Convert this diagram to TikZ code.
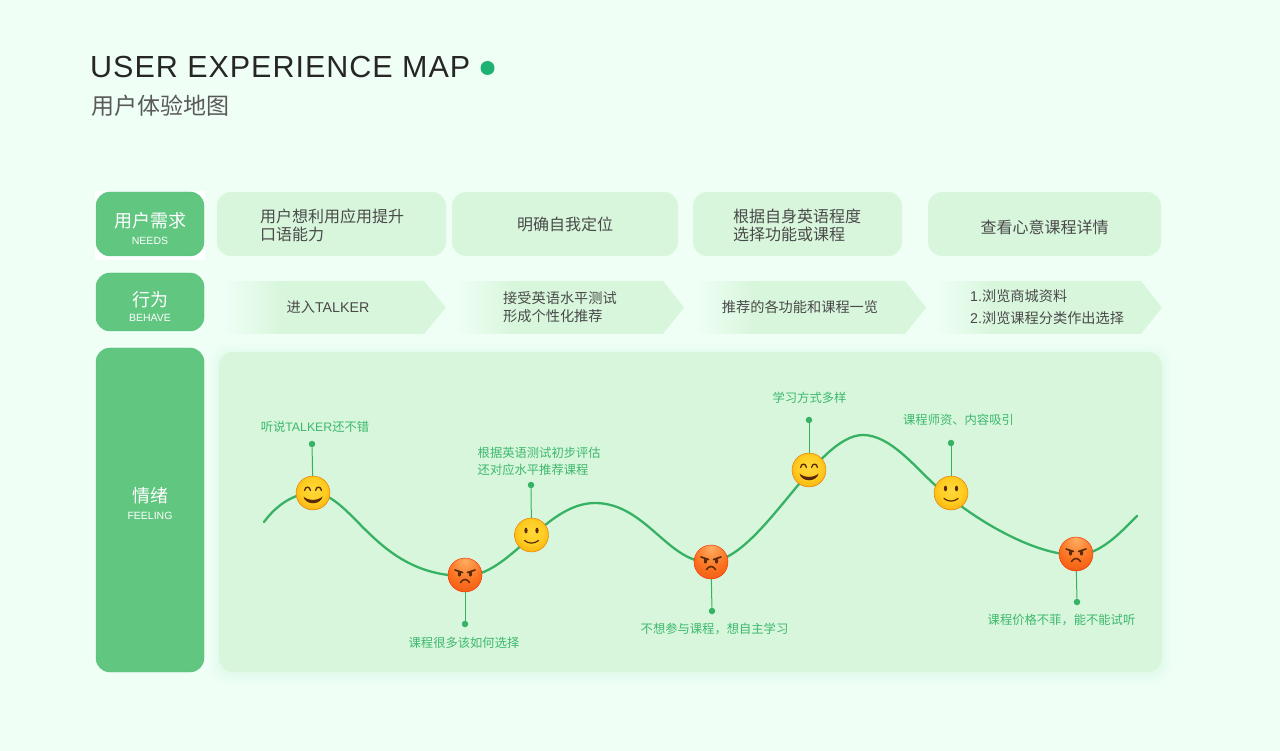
\documentclass[tikz,border=0pt]{standalone}
\usepackage{fontspec}
\setmainfont{Noto Sans CJK SC}
\newfontfamily\enfont{Liberation Sans}
\newfontfamily\titlefont[LetterSpace=3.2]{Liberation Sans}
\definecolor{pagebg}{HTML}{EFFFF6}
\definecolor{panelc}{HTML}{D8F6DC}
\definecolor{headc}{HTML}{60C680}
\definecolor{headl}{HTML}{57C078}
\definecolor{curvec}{HTML}{37B264}
\definecolor{titledotc}{HTML}{1DB271}
\definecolor{labelc}{HTML}{3DB86C}
\definecolor{bodyc}{HTML}{4A4A4A}
\definecolor{browc}{HTML}{5A2A06}
\pgfdeclareradialshading{happyball}{\pgfpoint{0bp}{5bp}}{%
 rgb(0bp)=(1,0.85,0.23);rgb(18bp)=(1,0.80,0.13);rgb(30bp)=(0.99,0.69,0.05);rgb(42bp)=(0.96,0.58,0.03);rgb(54bp)=(0.90,0.47,0.03);rgb(70bp)=(0.88,0.44,0.03)}
\pgfdeclareradialshading{angryball}{\pgfpoint{0bp}{22bp}}{%
 rgb(0bp)=(1,0.68,0.38);rgb(25bp)=(0.98,0.44,0.12);rgb(52bp)=(0.92,0.27,0.03);rgb(72bp)=(0.88,0.20,0.02)}
\tikzset{
 x=1pt,y=-1pt,
 headbox/.style={draw=headl,line width=0.4pt,fill=headc,rounded corners=14pt},
 needbox/.style={fill=panelc,rounded corners=14pt},
 headtxt/.style={text=white,font=\fontsize{18}{20}\selectfont,inner sep=0pt},
 subtxt/.style={text=white,font=\enfont\fontsize{10.5}{12}\selectfont,inner sep=0pt},
 needtxt/.style={text=bodyc,font=\fontsize{16}{18}\selectfont,align=left,inner sep=0pt},
 arrtxt/.style={text=bodyc,font=\fontsize{14.2}{18}\selectfont,align=left,inner sep=0pt},
 moodtxt/.style={text=labelc,font=\fontsize{12.3}{17}\selectfont,align=left,inner sep=0pt},
 pin/.style={draw=curvec,line width=1pt},
 pindot/.style={circle,fill=curvec,minimum size=6.5pt,inner sep=0pt},
 face/.style={circle,minimum size=34pt,inner sep=0pt,draw=#1,line width=0.4pt},
 happyface/.style={face=orange!90!black,shading=happyball,path picture={
   \begin{scope}[shift={(path picture bounding box.center)},line cap=round]
   \draw[browc,line width=1.3pt] (-8.5,-2.5) .. controls (-7.5,-7) and (-3.5,-7) .. (-2.5,-2.5);
   \draw[browc,line width=1.3pt] (2.5,-2.5) .. controls (3.5,-7) and (7.5,-7) .. (8.5,-2.5);
   \fill[browc] (-9.5,3.5) .. controls (-5,8) and (5,8) .. (9.5,3.5) .. controls (8,12.5) and (-8,12.5) .. (-9.5,3.5) -- cycle;
   \end{scope}}},
 smileface/.style={face=orange!90!black,shading=happyball,path picture={
   \begin{scope}[shift={(path picture bounding box.center)},line cap=round]
   \fill[browc] (-5.5,-4.5) ellipse (1.6pt and 2.9pt);
   \fill[browc] (5.5,-4.5) ellipse (1.6pt and 2.9pt);
   \draw[browc,line width=1.2pt] (-7,5.5) .. controls (-3,9) and (3,9) .. (7,5.5);
   \end{scope}}},
 angryface/.style={face=red!70!orange,shading=angryball,path picture={
   \begin{scope}[shift={(path picture bounding box.center)},line cap=round]
   \draw[browc,line width=1.6pt] (-10,-5) -- (-2.5,-2.5);
   \draw[browc,line width=1.6pt] (10,-5) -- (2.5,-2.5);
   \fill[browc] (-5.5,-1) ellipse (1.7pt and 2.6pt);
   \fill[browc] (5.5,-1) ellipse (1.7pt and 2.6pt);
   \draw[browc,line width=1.5pt] (-4.5,7.5) .. controls (-2,3.5) and (2,3.5) .. (4.5,7.5);
   \end{scope}}},
}
\newcommand{\en}[1]{{\enfont #1}}
\begin{document}
\begin{tikzpicture}
\useasboundingbox (0,0) rectangle (1280,751);
\fill[pagebg] (0,0) rectangle (1280,751);

% title
\node[anchor=west,inner sep=0pt,text=black!85,font=\titlefont\fontsize{30.5}{36}\selectfont] (title) at (90,67) {USER EXPERIENCE MAP};
\node[circle,fill=titledotc,minimum size=14pt,inner sep=0pt] (titledot) at (487.5,68) {};
\node[anchor=west,inner sep=0pt,text=black!65,font=\fontsize{23}{26}\selectfont] (subtitle) at (91,106) {用户体验地图};

% row heads
\fill[white] (95,191) rectangle (205,260);
\draw[headbox] (96,192) rectangle (204,256);
\draw[headbox] (96,273) rectangle (204,331);
\draw[headbox] (96,348) rectangle (204,672);
\node[headtxt] (h1) at (150,221) {用户需求};
\node[subtxt] (s1) at (150,241) {NEEDS};
\node[headtxt] (h2) at (150,299.5) {行为};
\node[subtxt] (s2) at (150,318) {BEHAVE};
\node[headtxt] (h3) at (150,495.5) {情绪};
\node[subtxt] (s3) at (150,516) {FEELING};

% needs
\fill[needbox] (217,192) rectangle (446,256);
\fill[needbox] (452,192) rectangle (678,256);
\fill[needbox] (693,192) rectangle (902,256);
\fill[needbox] (928,192) rectangle (1161,256);
\node[needtxt,anchor=west] (n1) at (260,225) {用户想利用应用提升\\口语能力};
\node[needtxt] (n2) at (565,224) {明确自我定位};
\node[needtxt,anchor=west] (n3) at (733,225) {根据自身英语程度\\选择功能或课程};
\node[needtxt] (n4) at (1044.5,227) {查看心意课程详情};

% behave arrows: the left end fades into the page in thin strips
\foreach \a/\b/\c in {223/424/446,455/663/684,695/905/926,935/1141/1162}{
  \fill[panelc] (\a+60,281) -- (\b,281) -- (\c,307.5) -- (\b,334) -- (\a+60,334) -- cycle;
  \foreach \s in {0,...,29}{
    \pgfmathsetmacro{\p}{(\s+0.5)*100/30}
    \fill[panelc!\p!pagebg] (\a+2*\s,281) rectangle (\a+2*\s+2.3,334);
  }
}
\node[arrtxt] (b1) at (328,307) {进入\en{TALKER}};
\node[arrtxt,anchor=west] (b2) at (503,307) {接受英语水平测试\\形成个性化推荐};
\node[arrtxt] (b3) at (800,307) {推荐的各功能和课程一览};
\node[arrtxt,anchor=west,font=\fontsize{14.2}{22}\selectfont] (b4) at (970,307) {\en{1.}浏览商城资料\\\en{2.}浏览课程分类作出选择};

% feeling panel
\foreach \g/\o in {10/0.008,7/0.01,4/0.012,2/0.014}{
  \fill[curvec,opacity=\o,rounded corners=16pt] (219-\g,352-\g+2) rectangle (1162+\g,672+\g+2);
}
\fill[needbox] (219,352) rectangle (1162,672);

% curve
\draw[curvec,line width=2.3pt,line cap=round]
 (264,522) .. controls (278,503) and (296,493) .. (313,493)
 .. controls (353,493) and (375,576) .. (465,576)
 .. controls (510,576) and (545,503) .. (595,503)
 .. controls (645,503) and (668,562) .. (708,562)
 .. controls (760,562) and (815,435) .. (863,435)
 .. controls (890,435) and (915,467) .. (935,485)
 .. controls (975,521) and (1035,555) .. (1076,555)
 .. controls (1100,555) and (1120,533) .. (1137,516);

% faces
\node[happyface] (f1) at (313,493) {};
\node[angryface] (f2) at (465,575) {};
\node[smileface] (f3) at (531.5,535) {};
\node[angryface] (f4) at (711,562) {};
\node[happyface] (f5) at (809,470) {};
\node[smileface] (f6) at (951,493) {};
\node[angryface] (f7) at (1076,554) {};

% pins
\node[pindot] (d1) at (312,444) {};
\node[pindot] (d2) at (465,624) {};
\node[pindot] (d3) at (531,485) {};
\node[pindot] (d4) at (712,611) {};
\node[pindot] (d5) at (809,420) {};
\node[pindot] (d6) at (951,443) {};
\node[pindot] (d7) at (1077,602) {};
\draw[pin] (d1) -- (f1);
\draw[pin] (d2) -- (f2);
\draw[pin] (d3) -- (f3);
\draw[pin] (d4) -- (f4);
\draw[pin] (d5) -- (f5);
\draw[pin] (d6) -- (f6);
\draw[pin] (d7) -- (f7);

% mood labels
\node[moodtxt] (m1) at (315,427) {听说\en{TALKER}还不错};
\node[moodtxt] (m2) at (464,643) {课程很多该如何选择};
\node[moodtxt,anchor=west] (m3) at (477.5,461) {根据英语测试初步评估\\还对应水平推荐课程};
\node[moodtxt] (m4) at (714.5,629) {不想参与课程，想自主学习};
\node[moodtxt] (m5) at (809.5,398) {学习方式多样};
\node[moodtxt] (m6) at (958.5,420) {课程师资、内容吸引};
\node[moodtxt] (m7) at (1061.5,620) {课程价格不菲，能不能试听};
\end{tikzpicture}
\end{document}
